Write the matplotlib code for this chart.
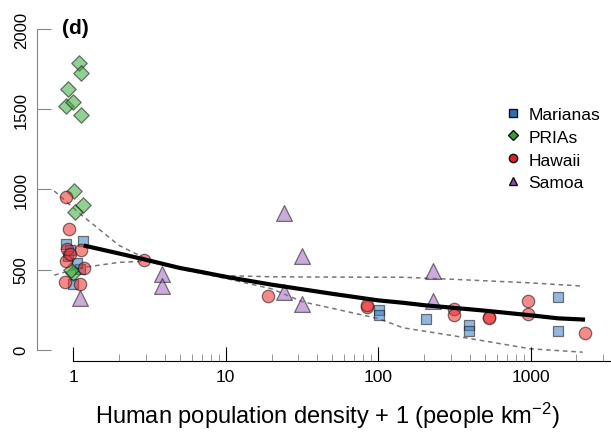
import numpy as np
import matplotlib.pyplot as plt
from matplotlib.lines import Line2D
from matplotlib.ticker import FixedLocator

plt.rcParams['font.family'] = ['Liberation Sans', 'DejaVu Sans']
plt.rcParams['mathtext.fontset'] = 'custom'
plt.rcParams['mathtext.rm'] = 'Liberation Sans'
plt.rcParams['mathtext.default'] = 'regular'

# --- data ---
mar_x = [0.9, 1.15, 0.92, 1.1, 1.0, 0.95, 1.05, 102, 102, 207, 394, 394, 1517, 1517]
mar_y = [660, 681, 587, 505, 411, 620, 540, 245, 214, 193, 152, 120, 328, 114]

pri_x = [0.92, 1.09, 1.13, 0.89, 1.0, 1.12, 1.01, 1.15, 1.02, 1.0, 0.97]
pri_y = [1626, 1788, 1726, 1522, 1547, 1464, 989, 903, 858, 478, 500]

haw_x = [0.9, 0.94, 0.91, 1.13, 0.9, 1.18, 0.88, 1.1, 0.95, 2.92, 19, 84, 84, 317, 317, 535, 535, 960, 960, 2280]
haw_y = [950, 750, 626, 623, 556, 512, 422, 411, 600, 561, 334, 266, 280, 255, 214, 204, 196, 307, 224, 106]

sam_x = [1.11, 3.81, 3.81, 24.1, 31.9, 24.1, 31.9, 228, 228]
sam_y = [322, 473, 397, 854, 584, 363, 287, 488, 301]

fit_x = [1.17, 2, 3, 5, 7, 10, 20, 50, 100, 146, 200, 500, 1000, 1517, 2280]
fit_y = [650, 600, 561, 510, 484, 455, 406, 349, 308, 293, 278, 244, 215, 196, 188]

up_x = [0.75, 1.1, 2, 3, 5, 7, 10, 20, 50, 146, 300, 1000, 2200]
up_y = [990, 850, 650, 568, 510, 482, 462, 455, 453, 452, 440, 417, 397]

lo_x = [0.75, 1.1, 2, 3, 5, 7, 10, 20, 32, 100, 146, 300, 1000, 2200]
lo_y = [465, 510, 545, 552, 505, 475, 445, 380, 299, 195, 137, 90, 6, -15]

fig = plt.figure(figsize=(6.11, 4.35), dpi=100)
ax = fig.add_axes([37 / 611, 73 / 435, 1 - 37 / 611 + 0.01, (362 - 20) / 435])

ax.set_xscale('log')
ax.set_xlim(0.578, 3700)
ax.set_ylim(-70, 2062)

ax.plot(up_x, up_y, ls=(0, (3, 2.5)), color='#777777', lw=1.1, zorder=1)
ax.plot(lo_x, lo_y, ls=(0, (3, 2.5)), color='#777777', lw=1.1, zorder=1)

ax.scatter(mar_x, mar_y, marker='s', s=62, c='#3b7fc4', alpha=0.55, edgecolors='#111111', linewidths=0.9, zorder=3)
ax.scatter(pri_x, pri_y, marker='D', s=62, c='#3aaa3a', alpha=0.55, edgecolors='#111111', linewidths=0.9, zorder=3)
ax.scatter(haw_x, haw_y, marker='o', s=80, c='#ee2a2a', alpha=0.55, edgecolors='#111111', linewidths=0.9, zorder=3)
ax.scatter(sam_x, sam_y, marker='^', s=130, c='#a066c0', alpha=0.55, edgecolors='#111111', linewidths=0.9, zorder=3)

ax.plot(fit_x, fit_y, color='black', lw=3, solid_capstyle='butt', zorder=4)

# R-like detached axes
for s in ['top', 'right']:
    ax.spines[s].set_visible(False)
ax.spines['left'].set_bounds(0, 2000)
ax.spines['left'].set_color('#888888')
ax.spines['bottom'].set_bounds(1, 3700)

ax.set_yticks([0, 500, 1000, 1500, 2000])
ax.set_yticklabels(['0', '500', '1000', '1500', '2000'], rotation=90, va='center')
ax.tick_params(axis='y', direction='in', length=10, color='#888888', labelsize=12, pad=6)

ax.set_xticks([1, 10, 100, 1000])
ax.set_xticklabels(['1', '10', '100', '1000'])
minor = [m * 10 ** d for d in range(4) for m in range(2, 10) if m * 10 ** d < 3700]
ax.xaxis.set_minor_locator(FixedLocator(minor))
ax.tick_params(axis='x', which='major', direction='in', length=10, labelsize=12.5, pad=6)
ax.tick_params(axis='x', which='minor', direction='in', length=5, color='#888888')

ax.set_xlabel('Human population density + 1 (people km$^{-2}$)', fontsize=17, labelpad=11)

ax.text(0.043, 0.975, '(d)', transform=ax.transAxes, fontsize=15, fontweight='bold', va='center')

handles = [
    Line2D([], [], marker='s', ls='none', color='#2f6fb0', mec='#111111', ms=6, label='Marianas'),
    Line2D([], [], marker='D', ls='none', color='#3a9a3a', mec='#111111', ms=5, label='PRIAs'),
    Line2D([], [], marker='o', ls='none', color='#e02020', mec='#111111', ms=6, label='Hawaii'),
    Line2D([], [], marker='^', ls='none', color='#8a4fa0', mec='#111111', ms=6, label='Samoa'),
]
ax.legend(handles=handles, loc='upper left', bbox_to_anchor=(0.775, 0.79), frameon=False,
          fontsize=12.5, handletextpad=0.3, labelspacing=0.45, handlelength=1.2)

fig.savefig('out.png', dpi=100)
